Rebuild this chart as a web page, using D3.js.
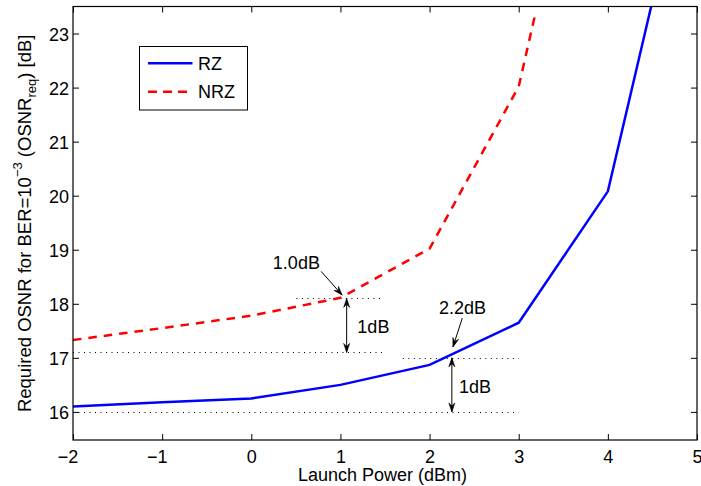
<!DOCTYPE html>
<html><head><meta charset="utf-8">
<script src="https://cdn.jsdelivr.net/npm/d3@7"></script>
<style>
html,body{margin:0;padding:0;background:#fff;}
svg{display:block;font-family:"Liberation Sans",Arial,Helvetica,sans-serif;}
</style></head>
<body>
<svg id="chart" width="701" height="486"></svg>
<script>
// ---- data ----
const launchPowerRZ = [-2, -1, 0, 1, 2, 3, 4, 4.5];
const osnrRZ        = [16.10, 16.18, 16.25, 16.50, 16.87, 17.65, 20.08, 23.6];
const launchPowerNRZ = [-2, -1, 0, 1, 2, 3, 3.18];
const osnrNRZ        = [17.33, 17.55, 17.78, 18.11, 19.02, 22.02, 23.32];
const xTicks = [-2, -1, 0, 1, 2, 3, 4, 5];
const yTicks = [16, 17, 18, 19, 20, 21, 22, 23];
const seriesNames = ["RZ", "NRZ"];
// reference dotted lines: [x0, x1, y]
const refLines = [[0.506, 1.45, 18.1], [-2, 1.48, 17.1], [1.70, 3.0, 17.0], [-2, 3.0, 16.0]];
// vertical double arrows: [x, yTop, yBottom]
const dblArrows = [[1.07, 18.1, 17.1], [2.25, 17.0, 16.0]];
// single arrows: [x0, y0, x1, y1]
const singleArrows = [[0.783, 18.6, 1.02, 18.16], [2.367, 17.735, 2.262, 17.2]];
// annotation labels: [text, x, y, anchor]
const annoLabels = [["1.0dB", 0.506, 18.65, "middle"], ["1dB", 1.19, 17.46, "start"], ["2.2dB", 2.105, 17.81, "start"], ["1dB", 2.33, 16.35, "start"]];

// ---- layout ----
const L = 73, R = 697, T = 6.5, B = 440;
const svg = d3.select("#chart");
const x = d3.scaleLinear().domain([-2, 5]).range([L, R]);
const y = d3.scaleLinear().domain([15.48, 23.5]).range([B, T]);

svg.append("defs").append("clipPath").attr("id", "clip")
  .append("rect").attr("x", L).attr("y", T).attr("width", R - L).attr("height", B - T);

const fs = 18;
// axes
const axB = svg.append("g").attr("transform", `translate(0,${B})`)
  .call(d3.axisBottom(x).tickValues(xTicks).tickSizeInner(-6).tickSizeOuter(0).tickPadding(10)
    .tickFormat(d => d < 0 ? "\u2212" + Math.abs(d) : d));
const axT = svg.append("g").attr("transform", `translate(0,${T})`)
  .call(d3.axisTop(x).tickValues(xTicks).tickSizeInner(-6).tickSizeOuter(0).tickFormat(""));
const axL = svg.append("g").attr("transform", `translate(${L},0)`)
  .call(d3.axisLeft(y).tickValues(yTicks).tickSizeInner(-6).tickSizeOuter(0).tickPadding(4));
const axR = svg.append("g").attr("transform", `translate(${R},0)`)
  .call(d3.axisRight(y).tickValues(yTicks).tickSizeInner(-6).tickSizeOuter(0).tickFormat(""));
[axB, axT, axL, axR].forEach(a => {
  a.select(".domain").remove();
  a.selectAll(".tick line").attr("stroke", "#000").attr("stroke-width", 1);
  a.selectAll("text").attr("font-size", fs).attr("fill", "#000").attr("font-family", "Liberation Sans, Arial, sans-serif");
});
axL.selectAll("text").attr("dy", "0.36em");
axB.selectAll("text").attr("dx", d => d < 0 ? -5.5 : 0);

// dotted reference lines
svg.append("g").selectAll("line").data(refLines).join("line")
  .attr("x1", d => x(d[0])).attr("x2", d => x(d[1]))
  .attr("y1", d => Math.round(y(d[2])) + 0.5).attr("y2", d => Math.round(y(d[2])) + 0.5)
  .attr("stroke", "#000").attr("stroke-width", 1).attr("stroke-dasharray", "1,4.5");

// series
const g = svg.append("g").attr("clip-path", "url(#clip)");
const line = d3.line().x(d => x(d[0])).y(d => y(d[1]));
g.append("path").datum(launchPowerNRZ.map((v, i) => [v, osnrNRZ[i]]))
  .attr("d", line).attr("fill", "none").attr("stroke", "#ff0000").attr("stroke-width", 2.5)
  .attr("stroke-dasharray", "8.5,7");
g.append("path").datum(launchPowerRZ.map((v, i) => [v, osnrRZ[i]]))
  .attr("d", line).attr("fill", "none").attr("stroke", "#0000ff").attr("stroke-width", 2.5);

// arrows
function arrowHead(sel, x0, y0, x1, y1) {
  const ang = Math.atan2(y1 - y0, x1 - x0);
  const len = 9, w = 3;
  const bx = x1 - len * Math.cos(ang), by = y1 - len * Math.sin(ang);
  const px = -Math.sin(ang) * w, py = Math.cos(ang) * w;
  sel.append("path").attr("d", `M${x1},${y1}L${bx + px},${by + py}L${bx + 0.35*len*Math.cos(ang)},${by + 0.35*len*Math.sin(ang)}L${bx - px},${by - py}Z`)
    .attr("fill", "#000").attr("stroke", "#000").attr("stroke-width", 0.6);
}
const ag = svg.append("g");
dblArrows.forEach(d => {
  const xx = x(d[0]), ya = y(d[1]), yb = y(d[2]);
  ag.append("line").attr("x1", xx).attr("x2", xx).attr("y1", ya).attr("y2", yb).attr("stroke", "#000").attr("stroke-width", 1);
  arrowHead(ag, xx, yb, xx, ya);
  arrowHead(ag, xx, ya, xx, yb);
});
singleArrows.forEach(d => {
  const x0 = x(d[0]), y0 = y(d[1]), x1 = x(d[2]), y1 = y(d[3]);
  ag.append("line").attr("x1", x0).attr("y1", y0).attr("x2", x1).attr("y2", y1).attr("stroke", "#000").attr("stroke-width", 1);
  arrowHead(ag, x0, y0, x1, y1);
});
svg.append("g").selectAll("text").data(annoLabels).join("text")
  .attr("x", d => x(d[1])).attr("y", d => y(d[2])).attr("text-anchor", d => d[3])
  .attr("font-size", fs).attr("fill", "#000").text(d => d[0]);

// box
svg.append("rect").attr("x", L).attr("y", T).attr("width", R - L).attr("height", B - T)
  .attr("fill", "none").attr("stroke", "#000").attr("stroke-width", 1.2);

// legend
const lg = svg.append("g");
lg.append("rect").attr("x", 139.5).attr("y", 46.5).attr("width", 108).attr("height", 63.5)
  .attr("fill", "#fff").attr("stroke", "#000").attr("stroke-width", 1);
const legY = [63.3, 91.7];
const legColor = ["#0000ff", "#ff0000"];
const legDash = [null, "9,6"];
seriesNames.forEach((n, i) => {
  lg.append("line").attr("x1", 148).attr("x2", 192.5).attr("y1", legY[i]).attr("y2", legY[i])
    .attr("stroke", legColor[i]).attr("stroke-width", 2.5).attr("stroke-dasharray", legDash[i]);
  lg.append("text").attr("x", 198).attr("y", legY[i]).attr("dy", "0.36em")
    .attr("font-size", fs).attr("fill", "#000").text(n);
});

// axis labels
svg.append("text").attr("x", 382.5).attr("y", 481).attr("text-anchor", "middle")
  .attr("font-size", fs).attr("fill", "#000").text("Launch Power (dBm)");
const yl = svg.append("text").attr("transform", `translate(30.5,223.3) rotate(-90)`)
  .attr("text-anchor", "middle").attr("font-size", 18.5).attr("fill", "#000");
yl.append("tspan").text("Required OSNR for BER=10");
yl.append("tspan").attr("dy", -8.5).attr("font-size", 13).text("\u22123");
yl.append("tspan").attr("dy", 8.5).text(" (OSNR");
yl.append("tspan").attr("dy", 5.5).attr("font-size", 13).text("req");
yl.append("tspan").attr("dy", -5.5).text(") [dB]");
</script>
</body></html>
